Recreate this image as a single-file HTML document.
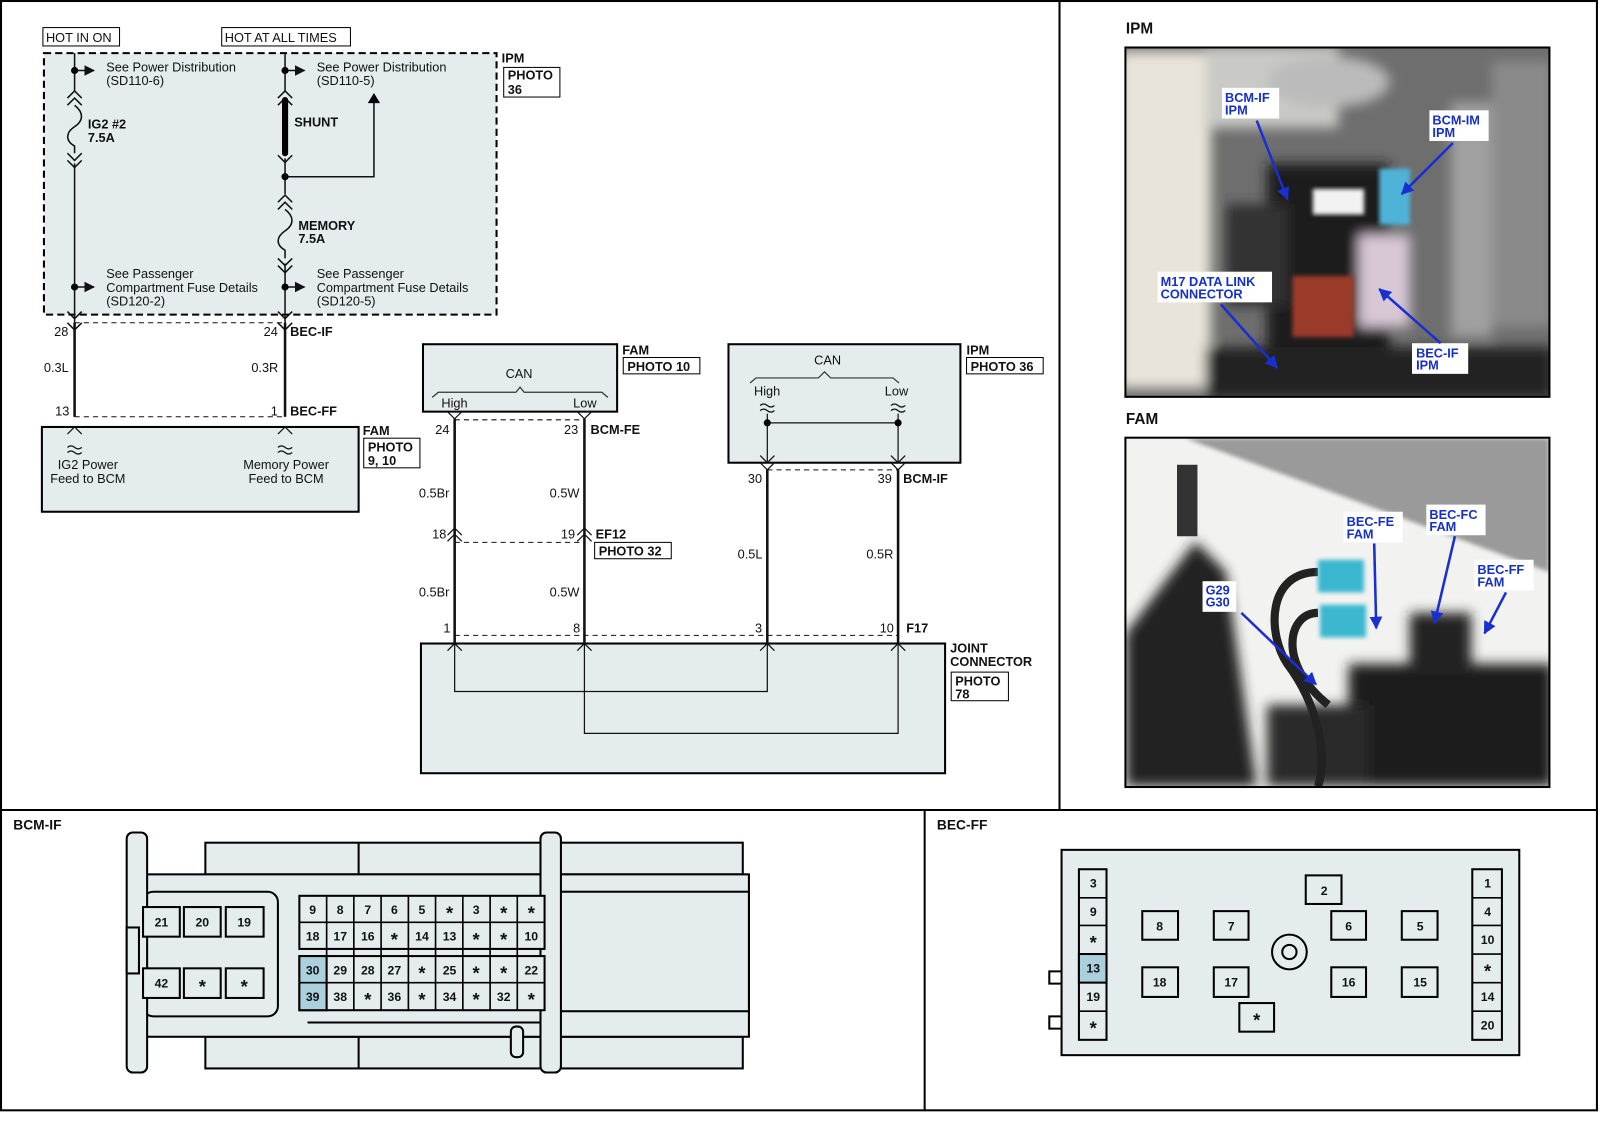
<!DOCTYPE html>
<html><head><meta charset="utf-8"><style>
html,body{margin:0;padding:0;background:#fff}
svg{display:block}
text{font-family:"Liberation Sans",Arial,sans-serif;fill:#111}
.b{font-weight:bold}
.lb{font-weight:bold;fill:#1530c8}
</style></head><body>
<svg width="1600" height="1143" viewBox="0 0 1566 1119" preserveAspectRatio="none" xmlns="http://www.w3.org/2000/svg">
<defs>
<marker id="ar" viewBox="0 0 10 10" refX="9" refY="5" markerWidth="7" markerHeight="7" orient="auto"><path d="M0,0L10,5L0,10z" fill="#111"/></marker>
<marker id="ab" viewBox="0 0 10 10" refX="9" refY="5" markerWidth="5" markerHeight="5" orient="auto"><path d="M0,0L10,5L0,10z" fill="#1a2fd0"/></marker>
<filter id="bl"><feGaussianBlur stdDeviation="6"/></filter>
<filter id="bl2"><feGaussianBlur stdDeviation="2"/></filter>
<clipPath id="c1"><rect x="1102" y="47" width="414" height="341"/></clipPath>
<clipPath id="c2"><rect x="1102" y="429" width="414" height="341"/></clipPath>
</defs>
<rect width="1566" height="1119" fill="#fff"/>
<g stroke="#000" stroke-width="2" fill="none">
<rect x="1" y="1" width="1562" height="1086"/>
<line x1="1037" y1="1" x2="1037" y2="793"/>
<line x1="1" y1="793" x2="1563" y2="793"/>
<line x1="905" y1="793" x2="905" y2="1087"/>
</g>

<g font-size="12.5">
<rect x="42" y="27" width="75" height="18" fill="#fff" stroke="#000"/>
<text x="45" y="41">HOT IN ON</text>
<rect x="217" y="27" width="126" height="18" fill="#fff" stroke="#000"/>
<text x="220" y="41">HOT AT ALL TIMES</text>
</g>
<rect x="43" y="52" width="443" height="256" fill="#e4ecee" stroke="#000" stroke-width="2" stroke-dasharray="7,4"/>
<g stroke="#111" stroke-width="1.5" fill="none">
<line x1="73" y1="52" x2="73" y2="90"/>
<line x1="73" y1="160" x2="73" y2="316"/>
<line x1="73" y1="316" x2="73" y2="408"/>
<line x1="279" y1="52" x2="279" y2="90"/>
<line x1="279" y1="155" x2="279" y2="190"/>
<line x1="279" y1="258" x2="279" y2="408"/>
<polyline points="279,173 366,173 366,100"/>
<line x1="73" y1="69" x2="92" y2="69" marker-end="url(#ar)"/>
<line x1="279" y1="69" x2="298" y2="69" marker-end="url(#ar)"/>
<line x1="73" y1="281" x2="92" y2="281" marker-end="url(#ar)"/>
<line x1="279" y1="281" x2="298" y2="281" marker-end="url(#ar)"/>
<polyline points="66,96 73,89 80,96"/><polyline points="66,103 73,96 80,103"/>
<polyline points="66,150 73,157 80,150"/><polyline points="66,157 73,164 80,157"/>
<polyline points="272,96 279,89 286,96"/><polyline points="272,103 279,96 286,103"/>
<polyline points="272,152 279,159 286,152"/>
<polyline points="272,198 279,191 286,198"/><polyline points="272,205 279,198 286,205"/>
<polyline points="272,253 279,260 286,253"/><polyline points="272,260 279,267 286,260"/>
<polyline points="66,305 73,312 80,305"/><polyline points="272,305 279,312 286,305"/>
<polyline points="66,316 73,323 80,316"/><polyline points="272,316 279,323 286,316"/>
<path d="M73,103 C82,110 82,118 73,124 C64,130 64,138 73,143 L73,150"/>
<path d="M279,205 C288,212 288,220 279,226 C270,232 270,240 279,245 L279,253"/>
</g>
<line x1="279" y1="98" x2="279" y2="150" stroke="#000" stroke-width="6" stroke-linecap="round"/>
<path d="M360,101 L366,91 L372,101z" fill="#000"/>
<g fill="#000"><circle cx="73" cy="69" r="3.5"/><circle cx="279" cy="69" r="3.5"/><circle cx="279" cy="173" r="3.5"/><circle cx="73" cy="281" r="3.5"/><circle cx="279" cy="281" r="3.5"/></g>
<g font-size="12.5">
<text x="104" y="70">See Power Distribution</text><text x="104" y="83">(SD110-6)</text>
<text x="310" y="70">See Power Distribution</text><text x="310" y="83">(SD110-5)</text>
<text x="104" y="272">See Passenger</text><text x="104" y="286">Compartment Fuse Details</text><text x="104" y="299">(SD120-2)</text>
<text x="310" y="272">See Passenger</text><text x="310" y="286">Compartment Fuse Details</text><text x="310" y="299">(SD120-5)</text>
<text class="b" x="86" y="126">IG2 #2</text><text class="b" x="86" y="139">7.5A</text>
<text class="b" x="288" y="124">SHUNT</text>
<text class="b" x="292" y="225">MEMORY</text><text class="b" x="292" y="238">7.5A</text>
<text class="b" x="491" y="61">IPM</text>
</g>
<rect x="493" y="66" width="55" height="29" fill="#fff" stroke="#000"/>
<text class="b" x="497" y="78" font-size="12.5">PHOTO</text><text class="b" x="497" y="92" font-size="12.5">36</text>
<line x1="73" y1="316" x2="279" y2="316" stroke="#111" stroke-dasharray="5,4"/>
<line x1="73" y1="316" x2="73" y2="408" stroke="#111" stroke-width="2.5"/>
<line x1="279" y1="316" x2="279" y2="408" stroke="#111" stroke-width="2.5"/>
<g font-size="12.5">
<text x="53" y="329">28</text><text x="258" y="329">24</text><text class="b" x="284" y="329">BEC-IF</text>
<text x="43" y="364">0.3L</text><text x="246" y="364">0.3R</text>
<text x="54" y="407">13</text><text x="265" y="407">1</text><text class="b" x="284" y="407">BEC-FF</text>
</g>
<line x1="73" y1="408" x2="279" y2="408" stroke="#111" stroke-dasharray="5,4"/>
<rect x="41" y="418" width="310" height="83" fill="#e4ecee" stroke="#000" stroke-width="2"/>
<g stroke="#111" fill="none" stroke-width="1.2">
<polyline points="66,425 73,418 80,425"/><polyline points="272,425 279,418 286,425"/>
<path d="M66,438 q3.5,-3 7,0 q3.5,3 7,0 M66,443 q3.5,-3 7,0 q3.5,3 7,0"/>
<path d="M272,438 q3.5,-3 7,0 q3.5,3 7,0 M272,443 q3.5,-3 7,0 q3.5,3 7,0"/>
</g>
<g font-size="12.5" text-anchor="middle">
<text x="86" y="459">IG2 Power</text><text x="86" y="473">Feed to BCM</text>
<text x="280" y="459">Memory Power</text><text x="280" y="473">Feed to BCM</text>
</g>
<text class="b" x="355" y="426" font-size="12.5">FAM</text>
<rect x="356" y="429" width="55" height="29" fill="#fff" stroke="#000"/>
<text class="b" x="360" y="442" font-size="12.5">PHOTO</text><text class="b" x="360" y="455" font-size="12.5">9, 10</text>

<rect x="414" y="337" width="190" height="66" fill="#e4ecee" stroke="#000" stroke-width="2"/>
<rect x="713" y="337" width="227" height="116" fill="#e4ecee" stroke="#000" stroke-width="2"/>
<rect x="412" y="630" width="513" height="127" fill="#e4ecee" stroke="#000" stroke-width="2"/>
<g stroke="#333" fill="none" stroke-width="1.2">
<path d="M423,389 l6,-5 h76 l4,-5 l4,5 h76 l6,5"/>
<path d="M734,375 l6,-5 h61 l6,-6 l6,6 h61 l6,5"/>
</g>
<g font-size="12.5">
<text x="508" y="370" text-anchor="middle">CAN</text>
<text x="432" y="399">High</text><text x="561" y="399">Low</text>
<text x="810" y="357" text-anchor="middle">CAN</text>
<text x="738" y="387">High</text><text x="866" y="387">Low</text>
</g>
<g stroke="#111" stroke-width="1.2" fill="none">
<path d="M744,397 q3.5,-3 7,0 q3.5,3 7,0 M744,402 q3.5,-3 7,0 q3.5,3 7,0"/>
<path d="M872,397 q3.5,-3 7,0 q3.5,3 7,0 M872,402 q3.5,-3 7,0 q3.5,3 7,0"/>
<line x1="751" y1="405" x2="751" y2="453"/><line x1="879" y1="405" x2="879" y2="453"/>
<line x1="751" y1="414" x2="879" y2="414"/>
<polyline points="744,446 751,453 758,446"/><polyline points="872,446 879,453 886,446"/>
<polyline points="744,453 751,460 758,453"/><polyline points="872,453 879,460 886,453"/>
<polyline points="438,403 445,410 452,403"/><polyline points="565,403 572,410 579,403"/>
<polyline points="438,524 445,517 452,524"/><polyline points="565,524 572,517 579,524"/>
<polyline points="438,530 445,523 452,530"/><polyline points="565,530 572,523 579,530"/>
<polyline points="438,637 445,630 452,637"/><polyline points="565,637 572,630 579,637"/>
<polyline points="744,637 751,630 758,637"/><polyline points="872,637 879,630 886,637"/>
<polyline points="445,630 445,677 751,677 751,630"/>
<polyline points="572,630 572,718 879,718 879,630"/>
</g>
<g fill="#000"><circle cx="751" cy="414" r="3.5"/><circle cx="879" cy="414" r="3.5"/></g>
<g stroke="#111" stroke-width="2.5">
<line x1="445" y1="410" x2="445" y2="630"/><line x1="572" y1="410" x2="572" y2="630"/>
<line x1="751" y1="460" x2="751" y2="630"/><line x1="879" y1="460" x2="879" y2="630"/>
</g>
<g stroke="#111" stroke-dasharray="5,4">
<line x1="445" y1="411" x2="572" y2="411"/><line x1="445" y1="531" x2="572" y2="531"/>
<line x1="751" y1="460" x2="879" y2="460"/><line x1="445" y1="622" x2="879" y2="622"/>
</g>
<g font-size="12.5">
<text x="426" y="425">24</text><text x="552" y="425">23</text><text class="b" x="578" y="425">BCM-FE</text>
<text x="410" y="487">0.5Br</text><text x="538" y="487">0.5W</text>
<text x="423" y="527">18</text><text x="549" y="527">19</text><text class="b" x="583" y="527">EF12</text>
<text x="410" y="584">0.5Br</text><text x="538" y="584">0.5W</text>
<text x="434" y="619">1</text><text x="561" y="619">8</text><text x="739" y="619">3</text><text x="861" y="619">10</text><text class="b" x="887" y="619">F17</text>
<text x="732" y="473">30</text><text x="859" y="473">39</text><text class="b" x="884" y="473">BCM-IF</text>
<text x="722" y="547">0.5L</text><text x="848" y="547">0.5R</text>
<text class="b" x="609" y="347">FAM</text><text class="b" x="946" y="347">IPM</text>
<text class="b" x="930" y="639">JOINT</text><text class="b" x="930" y="652">CONNECTOR</text>
</g>
<g fill="#fff" stroke="#000"><rect x="582" y="531" width="75" height="16"/><rect x="610" y="350" width="75" height="16"/><rect x="946" y="350" width="75" height="16"/><rect x="931" y="658" width="56" height="28"/></g>
<g font-size="12.5">
<text class="b" x="586" y="544">PHOTO 32</text><text class="b" x="614" y="363">PHOTO 10</text><text class="b" x="950" y="363">PHOTO 36</text>
<text class="b" x="935" y="671">PHOTO</text><text class="b" x="935" y="684">78</text>
</g>

<text class="b" x="1102" y="33" font-size="15">IPM</text>
<text class="b" x="1102" y="415" font-size="15">FAM</text>
<g clip-path="url(#c1)">
<rect x="1102" y="47" width="414" height="341" fill="#6e6e6e"/>
<g filter="url(#bl)">
<rect x="1095" y="50" width="90" height="330" fill="#e8e4da"/>
<rect x="1180" y="45" width="130" height="80" fill="#c9c9c5"/>
<ellipse cx="1300" cy="80" rx="60" ry="25" fill="#bbb"/>
<rect x="1240" y="160" width="120" height="200" fill="#1d1d1d"/>
<rect x="1330" y="230" width="50" height="90" fill="#d8c8d6"/>
<rect x="1420" y="100" width="40" height="230" fill="#a0a0a0"/>
<rect x="1180" y="340" width="340" height="50" fill="#222"/>
<rect x="1460" y="60" width="60" height="260" fill="#8a8a8a"/>
<rect x="1200" y="200" width="60" height="100" fill="#333"/>
</g>
<rect x="1350" y="165" width="30" height="55" fill="#4fb3d8" filter="url(#bl2)"/>
<rect x="1265" y="270" width="60" height="60" fill="#9a3a2a" filter="url(#bl2)"/>
<rect x="1285" y="185" width="50" height="25" fill="#f2f2f2" filter="url(#bl2)"/>
</g>
<rect x="1101.5" y="46.5" width="415" height="342" fill="none" stroke="#000" stroke-width="2"/>
<g clip-path="url(#c2)">
<rect x="1102" y="429" width="414" height="341" fill="#f2f2f0"/>
<path d="M1160,429 L1516,429 L1516,560 Z" fill="#9a9a9a" filter="url(#bl2)"/>
<g filter="url(#bl)">
<path d="M1102,620 L1170,530 L1200,560 L1230,770 L1102,770 Z" fill="#222"/>
<rect x="1320" y="650" width="200" height="120" fill="#1b1b1b"/>
<rect x="1240" y="690" width="100" height="80" fill="#2a2a2a"/>
<rect x="1380" y="600" width="60" height="60" fill="#222"/>
</g>
<g stroke="#222" stroke-width="8" fill="none"><path d="M1290,560 C1240,560 1240,620 1260,650 C1290,690 1300,740 1290,770"/><path d="M1290,600 C1260,600 1250,650 1300,690"/></g>
<rect x="1152" y="455" width="20" height="70" fill="#333"/>
<rect x="1290" y="548" width="45" height="32" fill="#3ab8d0" filter="url(#bl2)"/>
<rect x="1292" y="592" width="45" height="32" fill="#3ab8d0" filter="url(#bl2)"/>
</g>
<rect x="1101.5" y="428.5" width="415" height="342" fill="none" stroke="#000" stroke-width="2"/>
<g fill="#fff">
<rect x="1196" y="86" width="56" height="30"/><rect x="1399" y="108" width="58" height="30"/>
<rect x="1133" y="266" width="112" height="30"/><rect x="1382" y="336" width="55" height="30"/>
<rect x="1315" y="501" width="58" height="30"/><rect x="1396" y="494" width="58" height="30"/>
<rect x="1443" y="548" width="58" height="30"/><rect x="1177" y="569" width="33" height="30"/>
</g>
<g font-size="12.5">
<text class="lb" x="1199" y="100">BCM-IF</text><text class="lb" x="1199" y="112">IPM</text>
<text class="lb" x="1402" y="122">BCM-IM</text><text class="lb" x="1402" y="134">IPM</text>
<text class="lb" x="1136" y="280">M17 DATA LINK</text><text class="lb" x="1136" y="292">CONNECTOR</text>
<text class="lb" x="1386" y="350">BEC-IF</text><text class="lb" x="1386" y="362">IPM</text>
<text class="lb" x="1318" y="515">BEC-FE</text><text class="lb" x="1318" y="527">FAM</text>
<text class="lb" x="1399" y="508">BEC-FC</text><text class="lb" x="1399" y="520">FAM</text>
<text class="lb" x="1446" y="562">BEC-FF</text><text class="lb" x="1446" y="574">FAM</text>
<text class="lb" x="1180" y="582">G29</text><text class="lb" x="1180" y="594">G30</text>
</g>
<g stroke="#1a2fd0" stroke-width="2.5" marker-end="url(#ab)">
<line x1="1230" y1="118" x2="1260" y2="195"/>
<line x1="1422" y1="140" x2="1372" y2="190"/>
<line x1="1195" y1="298" x2="1250" y2="360"/>
<line x1="1410" y1="336" x2="1350" y2="283"/>
<line x1="1345" y1="532" x2="1347" y2="615"/>
<line x1="1424" y1="525" x2="1404" y2="610"/>
<line x1="1474" y1="580" x2="1453" y2="620"/>
<line x1="1215" y1="600" x2="1288" y2="670"/>
</g>

<text class="b" x="13" y="812" font-size="13.5">BCM-IF</text>
<g stroke="#000" stroke-width="2" fill="#e4ecee">
<rect x="201" y="825" width="526" height="31"/><line x1="351" y1="825" x2="351" y2="856"/>
<rect x="201" y="1015" width="526" height="31"/><line x1="351" y1="1015" x2="351" y2="1046"/>
<rect x="140" y="856" width="593" height="159"/>
<rect x="541" y="873" width="192" height="117"/>
<rect x="140" y="873" width="132" height="122" rx="10"/>
<rect x="124" y="815" width="20" height="235" rx="6"/>
<rect x="124" y="908" width="12" height="45"/>
<rect x="529" y="815" width="20" height="235" rx="6"/>
<rect x="500" y="1005" width="12" height="30" rx="5"/>
</g>
<line x1="301" y1="1001" x2="529" y2="1001" stroke="#000" stroke-width="2"/>
<g stroke="#000" stroke-width="2" fill="#e4ecee">
<rect x="140" y="888" width="36" height="29"/><rect x="180" y="888" width="36" height="29"/><rect x="221" y="888" width="37" height="29"/>
<rect x="140" y="948" width="36" height="29"/><rect x="180" y="948" width="36" height="29"/><rect x="221" y="948" width="37" height="29"/>
<rect x="293" y="877" width="240" height="52"/><rect x="293" y="936" width="240" height="53"/>
<rect x="293" y="936" width="26.7" height="53" fill="#a9d0dc"/>
</g>
<g stroke="#000" stroke-width="1.6">
<line x1="293" y1="903" x2="533" y2="903"/><line x1="293" y1="962" x2="533" y2="962"/>
<line x1="319.7" y1="877" x2="319.7" y2="989"/><line x1="346.3" y1="877" x2="346.3" y2="989"/><line x1="373" y1="877" x2="373" y2="989"/><line x1="399.7" y1="877" x2="399.7" y2="989"/><line x1="426.3" y1="877" x2="426.3" y2="989"/><line x1="453" y1="877" x2="453" y2="989"/><line x1="479.7" y1="877" x2="479.7" y2="989"/><line x1="506.3" y1="877" x2="506.3" y2="989"/>
</g>
<g font-size="12" text-anchor="middle" font-weight="bold">
<text x="158" y="907">21</text><text x="198" y="907">20</text><text x="239" y="907">19</text>
<text x="158" y="967">42</text><text x="198" y="972" font-size="18">*</text><text x="239" y="972" font-size="18">*</text>
</g>
<g font-size="12" text-anchor="middle" font-weight="bold">
<text x="306" y="895">9</text><text x="333" y="895">8</text><text x="360" y="895">7</text><text x="386" y="895">6</text><text x="413" y="895">5</text><text x="440" y="900" font-size="18">*</text><text x="466" y="895">3</text><text x="493" y="900" font-size="18">*</text><text x="520" y="900" font-size="18">*</text>
<text x="306" y="921">18</text><text x="333" y="921">17</text><text x="360" y="921">16</text><text x="386" y="926" font-size="18">*</text><text x="413" y="921">14</text><text x="440" y="921">13</text><text x="466" y="926" font-size="18">*</text><text x="493" y="926" font-size="18">*</text><text x="520" y="921">10</text>
<text x="306" y="954">30</text><text x="333" y="954">29</text><text x="360" y="954">28</text><text x="386" y="954">27</text><text x="413" y="959" font-size="18">*</text><text x="440" y="954">25</text><text x="466" y="959" font-size="18">*</text><text x="493" y="959" font-size="18">*</text><text x="520" y="954">22</text>
<text x="306" y="980">39</text><text x="333" y="980">38</text><text x="360" y="985" font-size="18">*</text><text x="386" y="980">36</text><text x="413" y="985" font-size="18">*</text><text x="440" y="980">34</text><text x="466" y="985" font-size="18">*</text><text x="493" y="980">32</text><text x="520" y="985" font-size="18">*</text>
</g>

<text class="b" x="917" y="812" font-size="13.5">BEC-FF</text>
<g stroke="#000" stroke-width="2" fill="#e4ecee">
<path d="M1039,951 h-12 v12 h12 M1039,995 h-12 v12 h12" fill="none"/>
<rect x="1039" y="832" width="448" height="201"/>
<rect x="1056" y="851" width="27" height="167"/><rect x="1056" y="934" width="27" height="28" fill="#a9d0dc"/>
<rect x="1441" y="851" width="29" height="167"/>
<rect x="1278" y="857" width="35" height="28"/>
<rect x="1118" y="892" width="35" height="28"/><rect x="1188" y="892" width="34" height="28"/><rect x="1303" y="892" width="34" height="28"/><rect x="1372" y="892" width="35" height="28"/>
<rect x="1118" y="947" width="35" height="29"/><rect x="1188" y="947" width="34" height="29"/><rect x="1303" y="947" width="34" height="29"/><rect x="1372" y="947" width="35" height="29"/>
<rect x="1213" y="982" width="34" height="28"/>
<circle cx="1262" cy="932" r="17"/><circle cx="1262" cy="932" r="7"/>
</g>
<g stroke="#000" stroke-width="1.6">
<line x1="1056" y1="879" x2="1083" y2="879"/><line x1="1056" y1="906" x2="1083" y2="906"/><line x1="1056" y1="934" x2="1083" y2="934"/><line x1="1056" y1="962" x2="1083" y2="962"/><line x1="1056" y1="990" x2="1083" y2="990"/>
<line x1="1441" y1="879" x2="1470" y2="879"/><line x1="1441" y1="906" x2="1470" y2="906"/><line x1="1441" y1="934" x2="1470" y2="934"/><line x1="1441" y1="962" x2="1470" y2="962"/><line x1="1441" y1="990" x2="1470" y2="990"/>
</g>
<g font-size="12" text-anchor="middle" font-weight="bold">
<text x="1070" y="869">3</text><text x="1070" y="897">9</text><text x="1070" y="929" font-size="18">*</text><text x="1070" y="952">13</text><text x="1070" y="980">19</text><text x="1070" y="1013" font-size="18">*</text>
<text x="1456" y="869">1</text><text x="1456" y="897">4</text><text x="1456" y="924">10</text><text x="1456" y="957" font-size="18">*</text><text x="1456" y="980">14</text><text x="1456" y="1008">20</text>
<text x="1296" y="876">2</text>
<text x="1135" y="911">8</text><text x="1205" y="911">7</text><text x="1320" y="911">6</text><text x="1390" y="911">5</text>
<text x="1135" y="966">18</text><text x="1205" y="966">17</text><text x="1320" y="966">16</text><text x="1390" y="966">15</text>
<text x="1230" y="1005" font-size="18">*</text>
</g>
</svg>
</body></html>
